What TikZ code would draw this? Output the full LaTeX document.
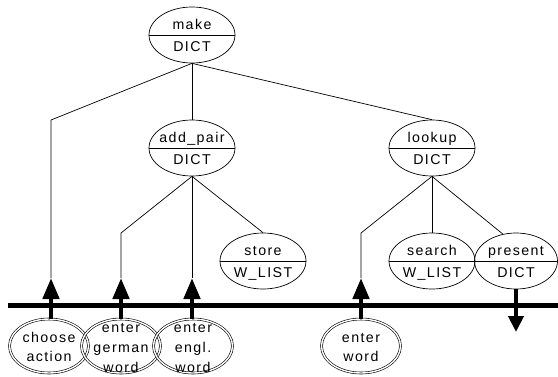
\documentclass[tikz,border=0pt]{standalone}
\usepackage{fontspec}
\setmainfont{Liberation Sans}[LetterSpace=10]
\usetikzlibrary{shapes.geometric,arrows.meta}
\newcommand\splitproc[5]{%
  \node[proc] (#1) at (#2,#3) {};
  \draw[conn] (#1.west) -- (#1.east);
  \node[lbl] (#1-t) at (#2,#3-6) {#4};
  \node[lbl] (#1-b) at (#2,#3+16) {#5};
}
\begin{document}
\begin{tikzpicture}[x=1pt,y=-1pt,
  proc/.style={ellipse, draw, line width=0.7pt, minimum width=86pt, minimum height=56pt, inner sep=0pt},
  io/.style={ellipse, draw, double, double distance=1.4pt, line width=0.6pt, minimum width=79pt, minimum height=54pt, inner sep=0pt},
  lbl/.style={anchor=base, inner sep=0pt, font=\fontsize{14.2}{19.5}\selectfont},
  conn/.style={line width=0.7pt},
  flow/.style={line width=4.5pt, -{Triangle[length=21pt,width=16pt]}},
  outflow/.style={line width=4.5pt, -{Triangle[length=16pt,width=15pt]}},
  bar/.style={line width=5pt}]
\useasboundingbox (0,0) rectangle (558,376);

% process ellipses
\splitproc{make}{192}{35}{make}{DICT}
\splitproc{addpair}{192}{148}{add\_pair}{DICT}
\splitproc{lookup}{432}{148}{lookup}{DICT}
\splitproc{store}{263}{261}{store}{W\_LIST}
\splitproc{search}{432}{261}{search}{W\_LIST}
\node[proc, minimum width=83pt] (present) at (516,261) {};
\draw[conn] (present.west) -- (present.east);
\node[lbl] (present-t) at (516,255) {present};
\node[lbl] (present-b) at (516,277) {DICT};

% bend points and arrow tips
\coordinate (b1) at (51,120);
\coordinate (b2) at (121,233);
\coordinate (b4) at (361,233);
\coordinate (t1) at (51,278);
\coordinate (t2) at (121,278);
\coordinate (t3) at (192,278);
\coordinate (t4) at (361,278);
\coordinate (pt) at (516,332);
\coordinate (barL) at (8,305);
\coordinate (barR) at (558,305);

% tree connectors
\draw[conn] (make.south) -- (b1) -- (t1);
\draw[conn] (make.south) -- (addpair.north);
\draw[conn] (make.south) -- (lookup.north);
\draw[conn] (addpair.south) -- (b2) -- (t2);
\draw[conn] (addpair.south) -- (t3);
\draw[conn] (addpair.south) -- (store.north);
\draw[conn] (lookup.south) -- (b4) -- (t4);
\draw[conn] (lookup.south) -- (search.north);
\draw[conn] (lookup.south) -- (present.116);

% bar
\draw[bar] (barL) -- (barR);

% io ellipses
\node[io] (choose) at (49,346) {};
\node[io] (german) at (121,346) {};
\node[io] (engl) at (193,346) {};
\node[io] (enterw) at (361,346) {};

\node[lbl] (choose-1) at (49,342) {choose};
\node[lbl] (choose-2) at (49,361) {action};
\node[lbl] (german-1) at (121,332) {enter};
\node[lbl] (german-2) at (121,352) {german};
\node[lbl] (german-3) at (121,372) {word};
\node[lbl] (engl-1) at (193,332) {enter};
\node[lbl] (engl-2) at (193,352) {engl.};
\node[lbl] (engl-3) at (193,372) {word};
\node[lbl] (enterw-1) at (361,342) {enter};
\node[lbl] (enterw-2) at (361,361) {word};

% flows
\draw[flow] (t1 |- choose.north) -- (t1);
\draw[flow] (t2 |- german.north) -- (t2);
\draw[flow] (t3 |- engl.north) -- (t3);
\draw[flow] (t4 |- enterw.north) -- (t4);
\draw[outflow] (present.south) -- (pt);
\end{tikzpicture}
\end{document}
